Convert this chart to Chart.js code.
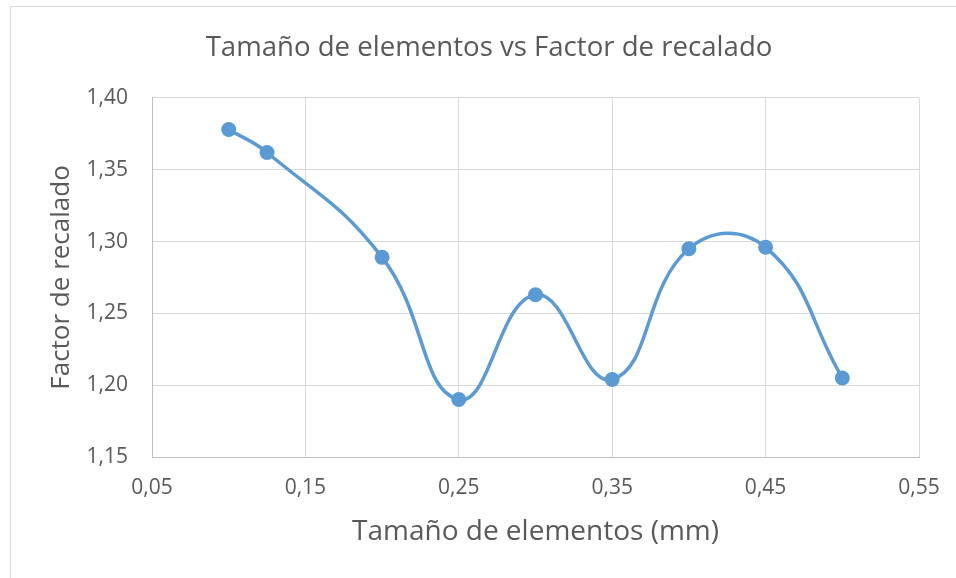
<!DOCTYPE html>
<html><head><meta charset="utf-8">
<script src="https://cdn.jsdelivr.net/npm/chart.js@4.4.0/dist/chart.umd.min.js"></script>
<style>
html,body{margin:0;padding:0;background:#fff;overflow:hidden;width:956px;height:578px;}
#frame{position:absolute;left:10px;top:6px;width:1200px;height:800px;border-left:1px solid #d9d9d9;border-top:1px solid #d9d9d9;}
#c{position:absolute;left:0;top:0;display:block;}
</style></head><body>
<div id="frame"></div>
<canvas id="c" width="956" height="578"></canvas>
<script>
const chartTitle = 'Tamaño de elementos vs Factor de recalado';
const xAxisTitle = 'Tamaño de elementos (mm)';
const yAxisTitle = 'Factor de recalado';
const sizes = [0.10, 0.125, 0.20, 0.25, 0.30, 0.35, 0.40, 0.45, 0.50];
const factors = [1.378, 1.362, 1.289, 1.190, 1.263, 1.204, 1.295, 1.296, 1.205];
const xTickLabels = ['0,05', '0,15', '0,25', '0,35', '0,45', '0,55'];
const yTickLabels = ['1,15', '1,20', '1,25', '1,30', '1,35', '1,40'];

const textColor = '#595959';
Chart.defaults.font.family = "'Open Sans', sans-serif";
Chart.defaults.color = textColor;

new Chart(document.getElementById('c'), {
  type: 'line',
  data: {
    datasets: [{
      data: sizes.map((x, i) => ({ x: x, y: factors[i] })),
      borderColor: '#5b9bd5',
      backgroundColor: '#5b9bd5',
      borderWidth: 3.5,
      tension: 0.45,
      pointRadius: 7.5,
      pointHoverRadius: 7.5,
      pointBorderWidth: 0,
      pointBackgroundColor: '#5b9bd5',
      fill: false,
      clip: false
    }]
  },
  options: {
    responsive: false,
    animation: false,
    devicePixelRatio: 1,
    layout: { padding: { left: 59, right: 37, top: 0, bottom: 0 } },
    plugins: {
      legend: { display: false },
      tooltip: { enabled: false },
      title: {
        display: true,
        text: chartTitle,
        color: textColor,
        font: { size: 27.6, weight: 'normal' },
        padding: { top: 31.9, bottom: 32.9 }
      }
    },
    scales: {
      x: {
        type: 'linear',
        min: 0.05,
        max: 0.55,
        ticks: {
          stepSize: 0.1,
          padding: 15,
          maxRotation: 0,
          autoSkip: false,
          color: textColor,
          font: { size: 21, lineHeight: 1.5 },
          callback: (v, i) => xTickLabels[i]
        },
        grid: { color: '#d9d9d9', lineWidth: 1, drawTicks: false },
        border: { color: '#bfbfbf', width: 1 },
        title: {
          display: true,
          text: xAxisTitle,
          color: textColor,
          font: { size: 28, weight: 'normal' },
          padding: { top: 0, bottom: 29 }
        },
        afterFit: (s) => { s.height = 121; }
      },
      y: {
        min: 1.15,
        max: 1.40,
        ticks: {
          stepSize: 0.05,
          padding: 24,
          autoSkip: false,
          color: textColor,
          font: { size: 21 },
          callback: (v, i) => yTickLabels[i]
        },
        grid: { color: '#d9d9d9', lineWidth: 1, drawTicks: false },
        border: { color: '#bfbfbf', width: 1 },
        title: {
          display: true,
          text: yAxisTitle,
          color: textColor,
          font: { size: 26, weight: 'normal' },
          padding: { top: -13, bottom: 0 }
        },
        afterFit: (s) => { s.width = 93; }
      }
    }
  }
});
</script>
</body></html>
